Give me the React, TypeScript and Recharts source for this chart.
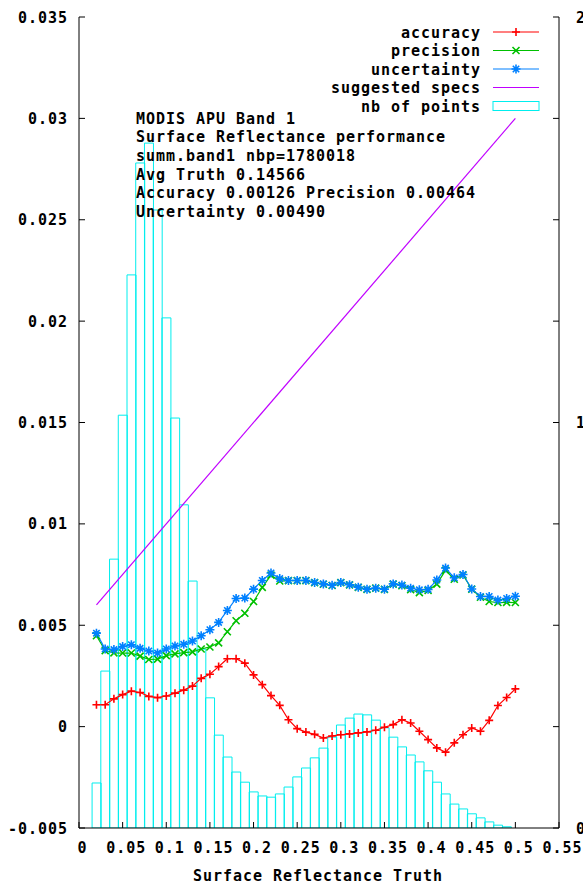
import React from 'react'
import { ComposedChart, XAxis, YAxis, Bar, Line, Label } from 'recharts'

const FONT = '"DejaVu Sans Mono", "Liberation Mono", monospace'
const TEXT: React.CSSProperties = {
	fontFamily: FONT,
	fontWeight: 'bold',
	fontSize: 15,
	letterSpacing: 0.97,
	fill: '#000',
}

const RED = '#ff0000'
const GREEN = '#00c000'
const BLUE = '#0080ff'
const PURPLE = '#c000ff'
const CYAN = '#00eeee'

// surface reflectance truth (bin centres)
const X_VALUES = [
	0.02, 0.03, 0.04, 0.05, 0.06, 0.07, 0.08, 0.09, 0.1, 0.11,
	0.12, 0.13, 0.14, 0.15, 0.16, 0.17, 0.18, 0.19, 0.2, 0.21,
	0.22, 0.23, 0.24, 0.25, 0.26, 0.27, 0.28, 0.29, 0.3, 0.31,
	0.32, 0.33, 0.34, 0.35, 0.36, 0.37, 0.38, 0.39, 0.4, 0.41,
	0.42, 0.43, 0.44, 0.45, 0.46, 0.47, 0.48, 0.49, 0.5,
]

const ACCURACY = [
	0.00108, 0.00108, 0.00137, 0.00158, 0.00175, 0.00168, 0.00149, 0.00143, 0.00151, 0.00165,
	0.0018, 0.002, 0.00238, 0.00258, 0.00296, 0.00335, 0.00335, 0.00313, 0.00255, 0.00207,
	0.00153, 0.00105, 0.00034, -0.0001, -0.00027, -0.00038, -0.00056, -0.00046, -0.0004, -0.00036,
	-0.00031, -0.00026, -0.00018, -0.00003, 0.0001, 0.00034, 0.00018, -0.00023, -0.00064, -0.00105,
	-0.00126, -0.0008, -0.0004, -0.00007, -0.00023, 0.00031, 0.00104, 0.00144, 0.00186,
]

const PRECISION = [
	0.00448, 0.00375, 0.00364, 0.00363, 0.00363, 0.00348, 0.00331, 0.00333, 0.0035, 0.00359,
	0.00365, 0.00369, 0.00383, 0.00393, 0.00413, 0.00468, 0.00522, 0.00559, 0.00617, 0.00687,
	0.00747, 0.00718, 0.0072, 0.0072, 0.0072, 0.0071, 0.00702, 0.00696, 0.0071, 0.00699,
	0.00687, 0.00677, 0.00683, 0.00677, 0.00703, 0.00695, 0.00676, 0.00661, 0.00672, 0.00703,
	0.00771, 0.00727, 0.00748, 0.00678, 0.00638, 0.00617, 0.00612, 0.00613, 0.00612,
]

const UNCERTAINTY = [
	0.00461, 0.00383, 0.0038, 0.00395, 0.00404, 0.00386, 0.00373, 0.00363, 0.00383, 0.00398,
	0.00406, 0.00422, 0.00448, 0.00478, 0.00514, 0.00573, 0.00632, 0.00634, 0.00678, 0.00721,
	0.00758, 0.0073, 0.00721, 0.00721, 0.00721, 0.00711, 0.00704, 0.00697, 0.00711, 0.007,
	0.00688, 0.00678, 0.00683, 0.00678, 0.00704, 0.00698, 0.00683, 0.00675, 0.00677, 0.00723,
	0.00782, 0.00734, 0.0075, 0.00679, 0.00642, 0.00642, 0.00624, 0.00632, 0.00643,
]

// histogram on the right axis (no bin at 0.50)
const NB_POINTS = [
	0.111, 0.387, 0.663, 1.018, 1.364, 1.64, 1.689, 1.524, 1.258, 1.011,
	0.797, 0.609, 0.441, 0.321, 0.229, 0.175, 0.138, 0.113, 0.089, 0.079,
	0.076, 0.084, 0.101, 0.126, 0.148, 0.173, 0.197, 0.224, 0.254, 0.271,
	0.281, 0.279, 0.266, 0.247, 0.224, 0.2, 0.18, 0.163, 0.141, 0.113,
	0.084, 0.059, 0.047, 0.035, 0.025, 0.015, 0.007, 0.003,
]

const SPEC_X = [0.02, 0.5]
const SPEC_Y = [0.006, 0.03]

const X_TICKS = [0, 0.05, 0.1, 0.15, 0.2, 0.25, 0.3, 0.35, 0.4, 0.45, 0.5, 0.55]
const Y_TICKS = [-0.005, 0, 0.005, 0.01, 0.015, 0.02, 0.025, 0.03, 0.035]
const Y2_TICKS = [0, 0.25, 0.5, 0.75, 1, 1.25, 1.5, 1.75, 2]
const Y2_LABELS = [0, 1, 2]

const INFO_LINES = [
	'MODIS APU Band 1',
	'Surface Reflectance performance',
	'summ.band1 nbp=1780018',
	'Avg Truth 0.14566',
	'Accuracy 0.00126 Precision 0.00464',
	'Uncertainty 0.00490',
]

const LEGEND_NAMES = ['accuracy', 'precision', 'uncertainty', 'suggested specs', 'nb of points']

const rows = X_VALUES.map((x, i) => {
	const s = SPEC_X.indexOf(x)
	return {
		x,
		accuracy: ACCURACY[i],
		precision: PRECISION[i],
		uncertainty: UNCERTAINTY[i],
		points: i < NB_POINTS.length ? NB_POINTS[i] : null,
		spec: s >= 0 ? SPEC_Y[s] : null,
	}
})

const plusPath = (cx: number, cy: number, r: number) => `M${cx - r},${cy}h${2 * r}M${cx},${cy - r}v${2 * r}`
const crossPath = (cx: number, cy: number, r: number) =>
	`M${cx - r},${cy - r}L${cx + r},${cy + r}M${cx - r},${cy + r}L${cx + r},${cy - r}`

const marker = (kind: string, cx: number, cy: number, color: string, key?: string) => {
	let d = ''
	if (kind === 'plus') d = plusPath(cx, cy, 4)
	else if (kind === 'cross') d = crossPath(cx, cy, 3.5)
	else d = plusPath(cx, cy, 4.5) + crossPath(cx, cy, 3.2)
	return <path key={key} d={d} stroke={color} strokeWidth={1.6} fill="none" />
}

const makeDot = (kind: string, color: string) => (props: any) => {
	const { cx, cy, index } = props
	if (cx == null || cy == null || isNaN(cx) || isNaN(cy)) return <g key={`e-${kind}-${index}`} />
	return marker(kind, cx, cy, color, `d-${kind}-${index}`)
}

const bottomTick = (props: any) => {
	const { x, y, payload } = props
	return (
		<g>
			<line x1={x} y1={y} x2={x} y2={y - 6} stroke="#000" />
			<text x={x + 3.5} y={y + 24.5} textAnchor="middle" style={TEXT}>
				{String(payload.value)}
			</text>
		</g>
	)
}

const topTick = (props: any) => {
	const { x, y } = props
	return <line x1={x} y1={y} x2={x} y2={y + 6} stroke="#000" />
}

const leftTick = (props: any) => {
	const { x, y, payload } = props
	return (
		<g>
			<line x1={x} y1={y} x2={x + 6} y2={y} stroke="#000" />
			<text x={x - 11} y={y + 5.5} textAnchor="end" style={TEXT}>
				{String(payload.value)}
			</text>
		</g>
	)
}

const rightTick = (props: any) => {
	const { x, y, payload } = props
	return (
		<g>
			<line x1={x} y1={y} x2={x - 6} y2={y} stroke="#000" />
			{Y2_LABELS.includes(payload.value) && (
				<text x={x + 17} y={y + 5.5} textAnchor="start" style={TEXT}>
					{String(payload.value)}
				</text>
			)}
		</g>
	)
}

const xTitle = (props: any) => {
	const vb = props.viewBox || { x: 71, y: 820, width: 480, height: 55 }
	return (
		<text x={vb.x + vb.width / 2 - 1} y={vb.y + 52.5} textAnchor="middle" style={TEXT}>
			Surface Reflectance Truth
		</text>
	)
}

const Overlay = () => {
	const legendColors = [RED, GREEN, BLUE, PURPLE, CYAN]
	const kinds = ['plus', 'cross', 'star']
	return (
		<svg
			width={575}
			height={875}
			style={{ position: 'absolute', left: 0, top: 0, pointerEvents: 'none' }}
		>
			{INFO_LINES.map((t, i) => (
				<text key={t} x={128} y={115.5 + i * 18.7} style={TEXT}>
					{t}
				</text>
			))}
			{LEGEND_NAMES.map((name, i) => {
				const cy = 24 + i * 18.5
				return (
					<g key={name}>
						<text x={473} y={cy + 5.5} textAnchor="end" style={TEXT}>
							{name}
						</text>
						{i < 4 && <line x1={485} y1={cy} x2={531} y2={cy} stroke={legendColors[i]} strokeWidth={1.2} />}
						{i < 3 && marker(kinds[i], 508, cy, legendColors[i])}
						{i === 4 && <rect x={485} y={cy - 4.5} width={46} height={9} fill="none" stroke={CYAN} />}
					</g>
				)
			})}
		</svg>
	)
}

const App: React.FC = () => {
	return (
		<div style={{ position: 'absolute', left: 8, top: 8, width: 575, height: 875, overflow: 'hidden' }}>
			<ComposedChart
				width={575}
				height={875}
				data={rows}
				margin={{ top: 9, right: 0, bottom: 0, left: 0 }}
				barCategoryGap={0}
				barGap={0}
			>
				<XAxis
					xAxisId="bottom"
					dataKey="x"
					type="number"
					domain={[0, 0.55]}
					ticks={X_TICKS}
					interval={0}
					tick={bottomTick}
					tickLine={false}
					tickSize={0}
					tickMargin={0}
					axisLine={{ stroke: '#000' }}
					height={55}
					allowDataOverflow
				>
					<Label content={xTitle} />
				</XAxis>
				<XAxis
					xAxisId="top"
					orientation="top"
					dataKey="x"
					type="number"
					domain={[0, 0.55]}
					ticks={X_TICKS}
					interval={0}
					tick={topTick}
					tickLine={false}
					tickSize={0}
					tickMargin={0}
					axisLine={{ stroke: '#000' }}
					height={0}
					allowDataOverflow
				/>
				<YAxis
					yAxisId="left"
					type="number"
					domain={[-0.005, 0.035]}
					ticks={Y_TICKS}
					interval={0}
					tick={leftTick}
					tickLine={false}
					tickSize={0}
					tickMargin={0}
					axisLine={{ stroke: '#000' }}
					width={71}
					allowDataOverflow
				/>
				<YAxis
					yAxisId="right"
					orientation="right"
					type="number"
					domain={[0, 2]}
					ticks={Y2_TICKS}
					interval={0}
					tick={rightTick}
					tickLine={false}
					tickSize={0}
					tickMargin={0}
					axisLine={{ stroke: '#000' }}
					width={24}
					allowDataOverflow
				/>
				<Bar
					xAxisId="bottom"
					yAxisId="right"
					dataKey="points"
					fill="none"
					stroke={CYAN}
					strokeWidth={1}
					isAnimationActive={false}
				/>
				<Line
					xAxisId="bottom"
					yAxisId="left"
					dataKey="accuracy"
					type="linear"
					stroke={RED}
					strokeWidth={1.2}
					dot={makeDot('plus', RED)}
					isAnimationActive={false}
				/>
				<Line
					xAxisId="bottom"
					yAxisId="left"
					dataKey="precision"
					type="linear"
					stroke={GREEN}
					strokeWidth={1.2}
					dot={makeDot('cross', GREEN)}
					isAnimationActive={false}
				/>
				<Line
					xAxisId="bottom"
					yAxisId="left"
					dataKey="uncertainty"
					type="linear"
					stroke={BLUE}
					strokeWidth={1.2}
					dot={makeDot('star', BLUE)}
					isAnimationActive={false}
				/>
				<Line
					xAxisId="bottom"
					yAxisId="left"
					dataKey="spec"
					type="linear"
					stroke={PURPLE}
					strokeWidth={1.2}
					dot={false}
					connectNulls
					isAnimationActive={false}
				/>
			</ComposedChart>
			<Overlay />
		</div>
	)
}

export default App
